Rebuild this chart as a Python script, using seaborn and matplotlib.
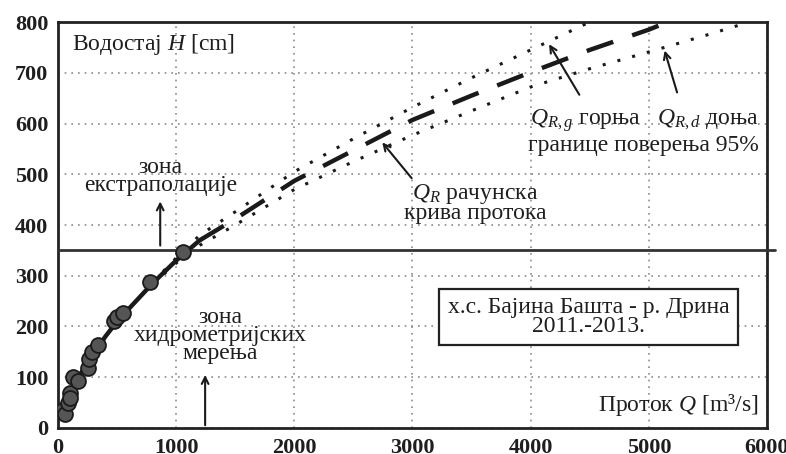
import numpy as np
import pandas as pd
import matplotlib
matplotlib.use('Agg')
import matplotlib.pyplot as plt
import seaborn as sns

# measured discharges (m3/s) and stages (cm)
q_meas = [40, 60, 85, 100, 105, 125, 170, 250, 265, 290, 335, 470, 500, 550, 775, 1060]
h_meas = [35, 28, 50, 68, 60, 101, 92, 118, 135, 150, 163, 210, 218, 226, 288, 347]

# computed rating curve Q_R
q_calc = [20, 100, 200, 300, 400, 500, 600, 800, 1000, 1200, 1500, 2000, 2500, 3000,
          3500, 4000, 4500, 5000, 5160]
h_calc = [25, 70, 110, 145, 180, 210, 235, 285, 330, 370, 412, 487, 547, 607,
          655, 701, 745, 785, 800]

# upper 95% confidence bound Q_R,g
q_upper = [800, 1000, 1200, 1500, 2000, 2500, 3000, 3500, 4000, 4500]
h_upper = [287, 335, 380, 426, 505, 570, 632, 690, 745, 800]

# lower 95% confidence bound Q_R,d
q_lower = [800, 1000, 1200, 1500, 2000, 2500, 3000, 3500, 4000, 4500, 5000, 5500, 5850]
h_lower = [283, 325, 360, 400, 470, 525, 577, 625, 672, 708, 741, 775, 800]

x_ticks = [0, 1000, 2000, 3000, 4000, 5000, 6000]
y_ticks = [0, 100, 200, 300, 400, 500, 600, 700, 800]
h_limit = 350  # border of measured zone

sns.set_theme(style="white")
plt.rcParams['font.family'] = ['Liberation Serif', 'DejaVu Serif']
plt.rcParams['mathtext.fontset'] = 'custom'
plt.rcParams['mathtext.rm'] = 'Liberation Serif'
plt.rcParams['mathtext.it'] = 'Liberation Serif:italic'

ink = '#1e1e1e'
fig = plt.figure(figsize=(7.86, 4.54), dpi=100)
ax = fig.add_axes([0.0738, 0.0573, 0.9020, 0.8942])

calc = pd.DataFrame({'Q': q_calc, 'H': h_calc})
fit = calc[calc['Q'] <= 1200]
extra = calc[calc['Q'] >= 1200]

sns.lineplot(data=fit, x='Q', y='H', ax=ax, color='k', lw=3.2, estimator=None, zorder=3)
sns.lineplot(data=extra, x='Q', y='H', ax=ax, color='k', lw=3.2, estimator=None,
             linestyle=(0, (6.3, 4.5)), zorder=3)
sns.lineplot(x=q_upper, y=h_upper, ax=ax, color='k', lw=2.2, estimator=None,
             linestyle=(0, (1, 4.0)), zorder=3)
sns.lineplot(x=q_lower, y=h_lower, ax=ax, color='k', lw=2.2, estimator=None,
             linestyle=(0, (1, 4.0)), zorder=3)
sns.scatterplot(x=q_meas, y=h_meas, ax=ax, s=115, color='#555555', edgecolor='#1a1a1a',
                linewidth=1.3, zorder=5)

ax.axhline(h_limit, xmin=0, xmax=1.012, color='#333333', lw=2.0, clip_on=False, zorder=4)

ax.set_xlim(0, 6000)
ax.set_ylim(0, 800)
ax.set_xticks(x_ticks)
ax.set_yticks(y_ticks)
ax.set_xlabel('')
ax.set_ylabel('')
ax.grid(True, color='#8a8a8a', lw=1.2, linestyle=(0, (1, 3)))
ax.tick_params(direction='out', length=6, width=1.6, labelsize=16, colors=ink, pad=1)
for lab in ax.get_xticklabels() + ax.get_yticklabels():
    lab.set_fontweight('bold')
for sp in ax.spines.values():
    sp.set_linewidth(2.0)
    sp.set_color('#222222')

fs = 17
ax.text(120, 755, 'Водостај $H$ [cm]', fontsize=fs, color=ink, va='center')
ax.text(5930, 45, 'Проток $Q$ [m³/s]', fontsize=fs, color=ink, va='center', ha='right')

ax.text(865, 495, 'зона\nекстраполације', fontsize=fs, color=ink, ha='center',
        va='center', linespacing=0.8)
ax.annotate('', xy=(865, 452), xytext=(865, h_limit + 4),
            arrowprops=dict(arrowstyle='->', color='k', lw=1.5))

ax.text(1373, 182, 'зона\nхидрометријских\nмерења', fontsize=fs, color=ink, ha='center',
        va='center', linespacing=0.8)
ax.annotate('', xy=(1245, 110), xytext=(1245, 0),
            arrowprops=dict(arrowstyle='->', color='k', lw=1.5))

ax.text(3530, 443, '$Q_R$ рачунска\nкрива протока', fontsize=fs, color=ink, ha='center',
        va='center', linespacing=0.85)
ax.annotate('', xy=(2729, 567), xytext=(3008, 488),
            arrowprops=dict(arrowstyle='->', color='k', lw=1.5))

ax.text(4958, 584, '$Q_{R,g}$ горња   $Q_{R,d}$ доња\nграницe поверења 95%', fontsize=fs,
        color=ink, ha='center', va='center', linespacing=1.1)
ax.annotate('', xy=(4144, 761), xytext=(4424, 652),
            arrowprops=dict(arrowstyle='->', color='k', lw=1.5))
ax.annotate('', xy=(5127, 749), xytext=(5246, 656),
            arrowprops=dict(arrowstyle='->', color='k', lw=1.5))

ax.text(4490, 219, 'х.с. Бајина Башта - р. Дрина\n2011.-2013.', fontsize=fs, color=ink,
        ha='center', va='center', linespacing=0.85, zorder=6,
        bbox=dict(boxstyle='square,pad=0.35', fc='white', ec='#222222', lw=1.6))

fig.savefig('out.png', dpi=100)
